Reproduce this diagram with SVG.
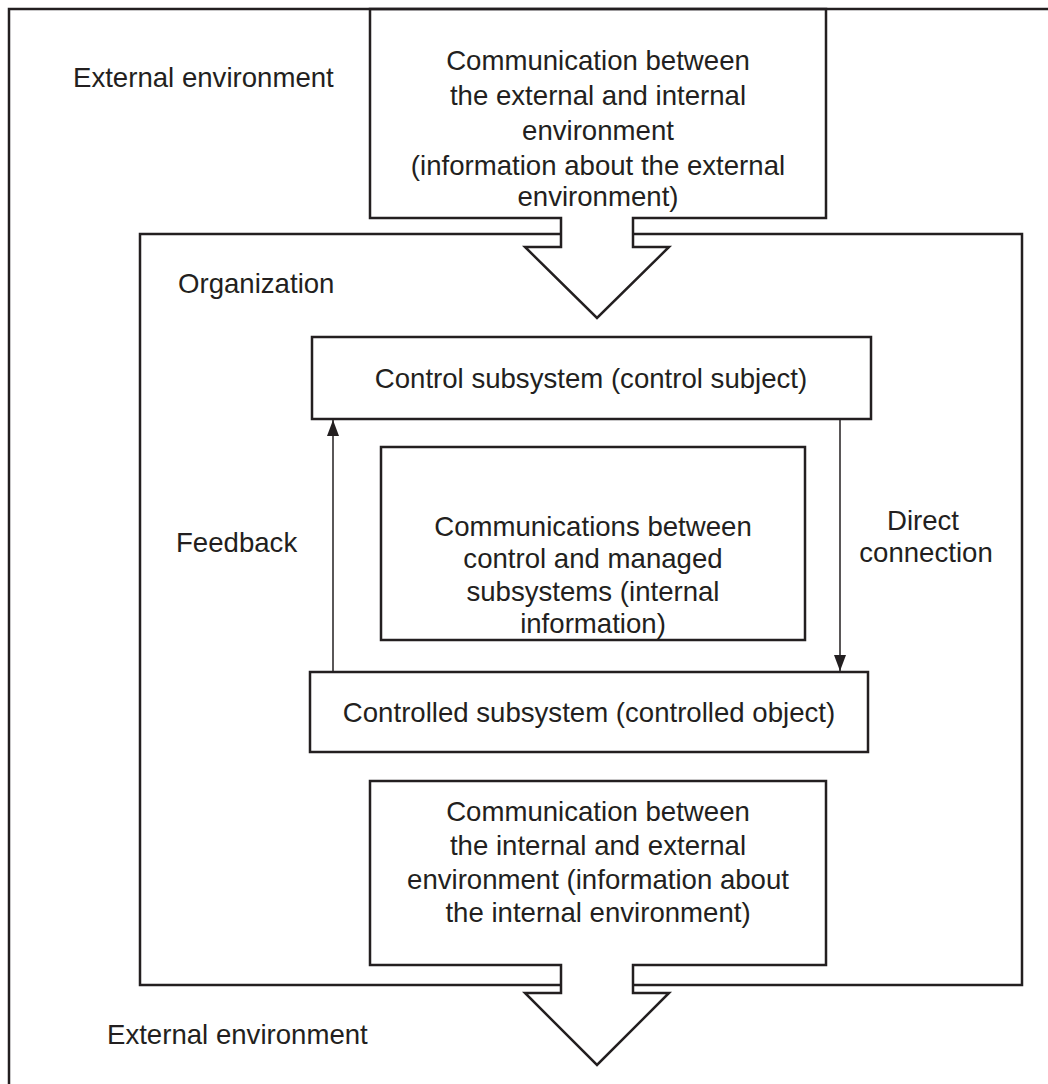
<svg xmlns="http://www.w3.org/2000/svg" width="1048" height="1084" viewBox="0 0 1048 1084">
<style>
.s{fill:none;stroke:#231f20;stroke-width:2.5}
.t{font-family:"Liberation Sans",Arial,sans-serif;font-size:27.6px;fill:#231f20}
.c{text-anchor:middle}
.ln{stroke:#231f20;stroke-width:1.5;fill:none}
</style>
<defs>
<marker id="ah" viewBox="0 0 16 12" refX="16" refY="6" markerWidth="16" markerHeight="12" markerUnits="userSpaceOnUse" orient="auto">
<path d="M0,0 L16,6 L0,12 Z" fill="#231f20"/>
</marker>
</defs>
<rect width="1048" height="1084" fill="#fff"/>
<path class="s" d="M9,1084 V9 H1048" stroke-width="3"/>
<g id="organization">
<path class="s" d="M561,234 H140 V985 H561 M633,985 H1022 V234 H633"/>
<text class="t" x="178" y="293">Organization</text>
</g>
<g id="ext-top-label"><text class="t" x="73" y="87">External environment</text></g>
<g id="ext-bottom-label"><text class="t" x="107" y="1044">External environment</text></g>
<g id="comm-in">
<path class="s" d="M370,9 H826 V218 H633 V247 H669 L597,318 L525,247 H561 V218 H370 Z"/>
<text class="t c" x="598" y="70">Communication between</text>
<text class="t c" x="598" y="105">the external and internal</text>
<text class="t c" x="598" y="140">environment</text>
<text class="t c" x="598" y="175">(information about the external</text>
<text class="t c" x="598" y="206">environment)</text>
</g>
<g id="control">
<rect class="s" x="312" y="337" width="559" height="82"/>
<text class="t c" x="591" y="388">Control subsystem (control subject)</text>
</g>
<g id="comm-internal">
<rect class="s" x="381" y="447" width="424" height="193"/>
<text class="t c" x="593" y="536">Communications between</text>
<text class="t c" x="593" y="568">control and managed</text>
<text class="t c" x="593" y="601">subsystems (internal</text>
<text class="t c" x="593" y="633">information)</text>
</g>
<g id="controlled">
<rect class="s" x="310" y="672" width="558" height="80"/>
<text class="t c" x="589" y="722">Controlled subsystem (controlled object)</text>
</g>
<g id="comm-out">
<path class="s" d="M370,781 H826 V965 H633 V993 H669 L597,1065 L525,993 H561 V965 H370 Z"/>
<text class="t c" x="598" y="821">Communication between</text>
<text class="t c" x="598" y="855">the internal and external</text>
<text class="t c" x="598" y="889">environment (information about</text>
<text class="t c" x="598" y="922">the internal environment)</text>
</g>
<g id="connectors">
<line class="ln" x1="333" y1="672" x2="333" y2="420" marker-end="url(#ah)"/>
<line class="ln" x1="840" y1="419" x2="840" y2="671" marker-end="url(#ah)"/>
<text class="t" x="176" y="552">Feedback</text>
<text class="t c" x="923" y="530">Direct</text>
<text class="t c" x="926" y="562">connection</text>
</g>
</svg>
